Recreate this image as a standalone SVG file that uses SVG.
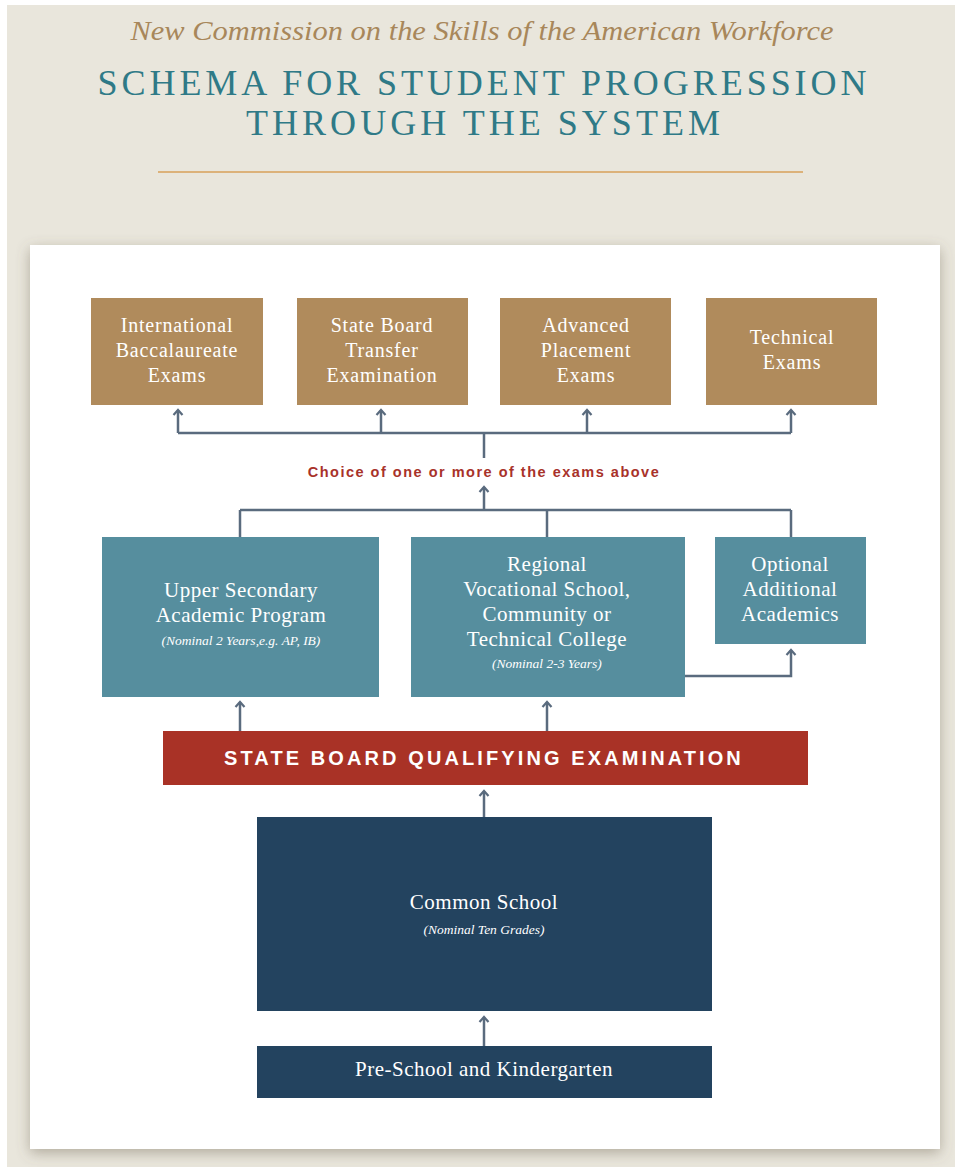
<svg xmlns="http://www.w3.org/2000/svg" width="955" height="1167" viewBox="0 0 955 1167">
<defs>
<style>
.serif{font-family:"Liberation Serif","Times New Roman",serif;}
.gold{fill:#b08b5c;}
.teal{fill:#568e9e;}
.navy{fill:#23435f;}
.btxt{font-family:"Liberation Serif","Times New Roman",serif;font-size:20px;fill:#ffffff;text-anchor:middle;letter-spacing:0.8px;}
.ttxt{font-family:"Liberation Serif","Times New Roman",serif;font-size:21px;fill:#ffffff;text-anchor:middle;letter-spacing:0.5px;}
.itxt{font-family:"Liberation Serif","Times New Roman",serif;font-style:italic;font-size:13.5px;fill:#ffffff;text-anchor:middle;}
.conn{fill:none;stroke:#5a6b7e;stroke-width:2.5;}
</style>
<marker id="arr" viewBox="0 0 10 12" refX="8" refY="6" markerWidth="10" markerHeight="12" markerUnits="userSpaceOnUse" orient="auto">
<path d="M3,1.5 L8,6 L3,10.5" fill="none" stroke="#5a6b7e" stroke-width="2.2"/>
</marker>
<filter id="sh" x="-5%" y="-5%" width="110%" height="110%">
<feDropShadow dx="0" dy="4" stdDeviation="7" flood-color="#6a6050" flood-opacity="0.45"/>
</filter>
</defs>
<rect x="0" y="0" width="955" height="1167" fill="#ffffff"/>
<rect x="7" y="5" width="948" height="1162" fill="#e9e6dc"/>
<g id="title">
<text x="482" y="40" class="serif" font-style="italic" font-size="27" fill="#a8875a" text-anchor="middle" textLength="703" lengthAdjust="spacingAndGlyphs">New Commission on the Skills of the American Workforce</text>
<text x="482" y="95" class="serif" font-size="36" fill="#2f7a87" text-anchor="middle" textLength="769" lengthAdjust="spacing">SCHEMA FOR STUDENT PROGRESSION</text>
<text x="483" y="135" class="serif" font-size="36" fill="#2f7a87" text-anchor="middle" textLength="474" lengthAdjust="spacing">THROUGH THE SYSTEM</text>
<line x1="158" y1="172" x2="803" y2="172" stroke="#dcb27a" stroke-width="2"/>
</g>
<rect x="30" y="245" width="910" height="904" fill="#ffffff" filter="url(#sh)"/>
<g id="connectors">
<path class="conn" d="M178,433 H791"/>
<path class="conn" d="M178,433 V410" marker-end="url(#arr)"/>
<path class="conn" d="M381,433 V410" marker-end="url(#arr)"/>
<path class="conn" d="M587,433 V410" marker-end="url(#arr)"/>
<path class="conn" d="M791,433 V410" marker-end="url(#arr)"/>
<path class="conn" d="M484,433 V458"/>
<path class="conn" d="M484,510 V487" marker-end="url(#arr)"/>
<path class="conn" d="M240,510 H791"/>
<path class="conn" d="M240,510 V537"/>
<path class="conn" d="M547,510 V537"/>
<path class="conn" d="M791,510 V537"/>
<path class="conn" d="M685,676 H791 V650" marker-end="url(#arr)"/>
<path class="conn" d="M240,731 V702" marker-end="url(#arr)"/>
<path class="conn" d="M547,731 V702" marker-end="url(#arr)"/>
<path class="conn" d="M484,817 V791" marker-end="url(#arr)"/>
<path class="conn" d="M484,1046 V1017" marker-end="url(#arr)"/>
<text x="484" y="477" font-family="'Liberation Sans',Arial,sans-serif" font-weight="bold" font-size="14.5" fill="#a8322a" text-anchor="middle" letter-spacing="1.5">Choice of one or more of the exams above</text>
</g>
<g id="ib">
<rect class="gold" x="91" y="298" width="172" height="107"/>
<text class="btxt" x="177" y="332">International</text>
<text class="btxt" x="177" y="357">Baccalaureate</text>
<text class="btxt" x="177" y="382">Exams</text>
</g>
<g id="sbte">
<rect class="gold" x="297" y="298" width="171" height="107"/>
<text class="btxt" x="382" y="332">State Board</text>
<text class="btxt" x="382" y="357">Transfer</text>
<text class="btxt" x="382" y="382">Examination</text>
</g>
<g id="ap">
<rect class="gold" x="500" y="298" width="171" height="107"/>
<text class="btxt" x="586" y="332">Advanced</text>
<text class="btxt" x="586" y="357">Placement</text>
<text class="btxt" x="586" y="382">Exams</text>
</g>
<g id="tech">
<rect class="gold" x="706" y="298" width="171" height="107"/>
<text class="btxt" x="792" y="344">Technical</text>
<text class="btxt" x="792" y="369">Exams</text>
</g>
<g id="upper">
<rect class="teal" x="102" y="537" width="277" height="160"/>
<text class="ttxt" x="241" y="597">Upper Secondary</text>
<text class="ttxt" x="241" y="622">Academic Program</text>
<text class="itxt" x="241" y="645">(Nominal 2 Years,e.g. AP, IB)</text>
</g>
<g id="regional">
<rect class="teal" x="411" y="537" width="274" height="160"/>
<text class="ttxt" x="547" y="571">Regional</text>
<text class="ttxt" x="547" y="596">Vocational School,</text>
<text class="ttxt" x="547" y="621">Community or</text>
<text class="ttxt" x="547" y="646">Technical College</text>
<text class="itxt" x="547" y="668">(Nominal 2-3 Years)</text>
</g>
<g id="optional">
<rect class="teal" x="715" y="537" width="151" height="107"/>
<text class="ttxt" x="790" y="571">Optional</text>
<text class="ttxt" x="790" y="596">Additional</text>
<text class="ttxt" x="790" y="621">Academics</text>
</g>
<g id="sbqe">
<rect x="163" y="731" width="645" height="54" fill="#a93226"/>
<text x="484" y="765" font-family="'Liberation Sans',Arial,sans-serif" font-weight="bold" font-size="20" fill="#ffffff" text-anchor="middle" letter-spacing="3.1">STATE BOARD QUALIFYING EXAMINATION</text>
</g>
<g id="common">
<rect class="navy" x="257" y="817" width="455" height="194"/>
<text class="ttxt" x="484" y="909">Common School</text>
<text class="itxt" x="484" y="934">(Nominal Ten Grades)</text>
</g>
<g id="preschool">
<rect class="navy" x="257" y="1046" width="455" height="52"/>
<text class="ttxt" x="484" y="1076">Pre-School and Kindergarten</text>
</g>
</svg>
